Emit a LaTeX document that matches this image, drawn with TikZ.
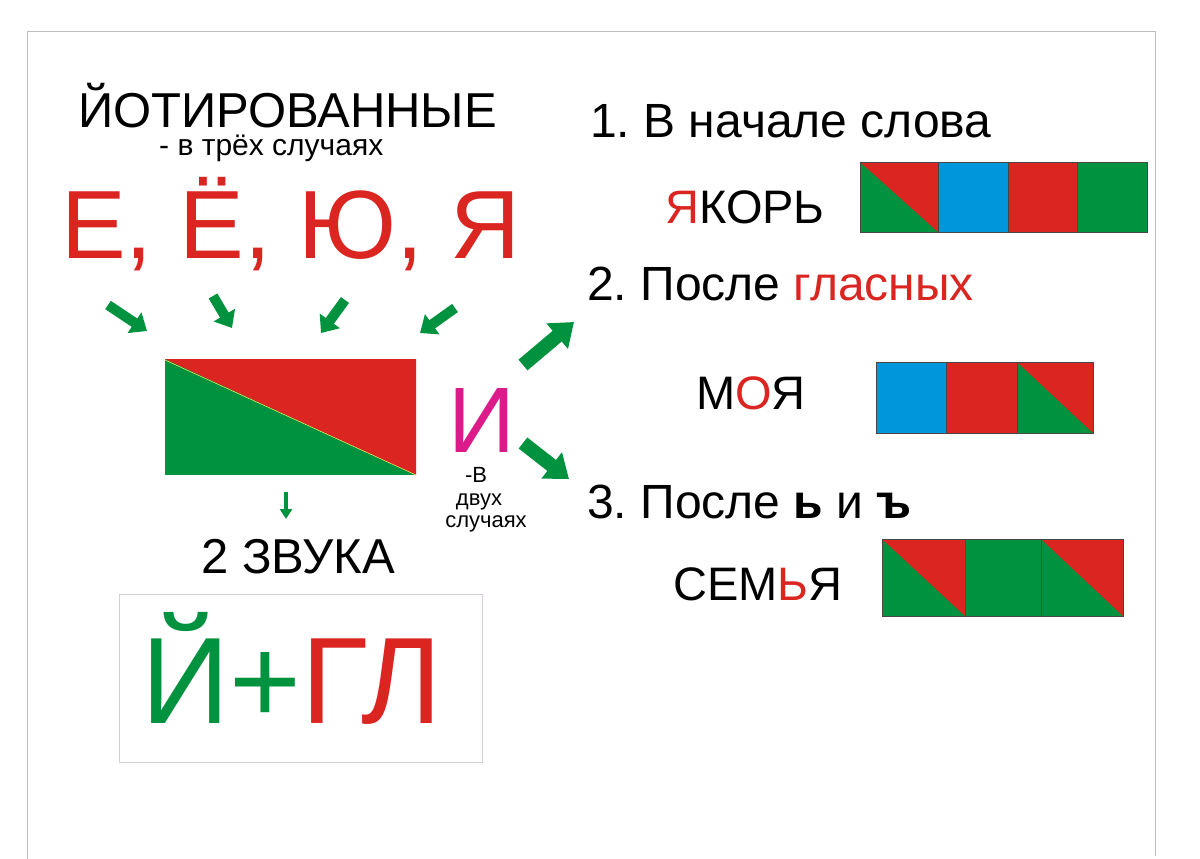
\documentclass[tikz,border=0pt]{standalone}
\usepackage{fontspec}
\setmainfont{Liberation Sans}
\usetikzlibrary{arrows.meta}
\definecolor{cred}{RGB}{218,37,32}
\definecolor{cgreen}{RGB}{0,146,63}
\definecolor{cblue}{RGB}{0,150,220}
\definecolor{cmag}{RGB}{220,26,138}
\definecolor{cframe}{RGB}{190,190,190}
\definecolor{cbox}{RGB}{216,204,216}
\definecolor{cedge}{RGB}{70,70,70}
\newcommand{\fs}[1]{\fontsize{#1}{#1}\selectfont}
\frenchspacing
\begin{document}
\begin{tikzpicture}[x=1pt,y=-1pt,
  txt/.style={inner sep=0pt,anchor=base west},
  garrow/.style={draw=cgreen,line join=miter},
  sq/.style={draw=cedge,line width=0.5pt}]
\useasboundingbox (0,0) rectangle (1200,859);
\fill[white] (0,0) rectangle (1200,859);
% frame
\draw[cframe,line width=1pt] (27,859) -- (27,32) -- (1155,32) -- (1155,856);

% left column texts
\node[txt] (title) at (78,127) {\fs{49}ЙОТИРОВАННЫЕ};
\node[txt] (sub) at (159,155) {\fs{30}\smash{- в трёх случаях}};
\node[txt,text=cred] (vowels) at (61,258) {\fs{97}Е, Ё, Ю, Я};

% big rectangle
\fill[cgreen] (165,359) rectangle (416,475);
\fill[cred] (165,359) -- (416,359) -- (416,475) -- cycle;
\draw[yellow!60!white,line width=0.5pt] (165,360) -- (416,475);
\coordinate (rect) at (290,417);

% arrows into rectangle
\coordinate (a1s) at (108,305); \coordinate (a1e) at (147,331);
\coordinate (a2s) at (213,296); \coordinate (a2e) at (232,328);
\coordinate (a3s) at (345,300); \coordinate (a3e) at (321,333);
\coordinate (a4s) at (455,308); \coordinate (a4e) at (420,333);
\foreach \s/\e in {a1s/a1e,a2s/a2e,a3s/a3e,a4s/a4e}
  \draw[garrow,line width=10pt,-{Triangle[length=15pt,width=24pt]}] (\s) -- (\e);

% down arrow
\coordinate (dns) at (286,492); \coordinate (dne) at (286,519);
\draw[garrow,line width=4pt,-{Triangle[length=10pt,width=12pt]}] (dns) -- (dne);

\node[txt] (zvuka) at (201,573) {\fs{49}2 ЗВУКА};

% box
\draw[cbox,line width=1pt] (119,594) rectangle (482,762);
\node[txt] (formula) at (141,723) {\fs{123}\textcolor{cgreen}{Й+}\textcolor{cred}{ГЛ}};

% И
\node[txt,text=cmag] (i) at (448,452) {\fs{93}\smash{И}};
\node[inner sep=0pt,anchor=base] (ivA) at (476,482) {\fs{22}\smash{-В}};
\node[inner sep=0pt,anchor=base] (ivB) at (479,505) {\fs{22}двух};
\node[inner sep=0pt,anchor=base] (ivC) at (486,527) {\fs{22}случаях};

% arrows from И
\coordinate (rus) at (523,365); \coordinate (rue) at (574,322);
\coordinate (rds) at (523,443); \coordinate (rde) at (569,479);
\draw[garrow,line width=14pt,-{Triangle[length=22pt,width=32pt]}] (rus) -- (rue);
\draw[garrow,line width=14pt,-{Triangle[length=22pt,width=32pt]}] (rds) -- (rde);

% right column
\node[txt] (c1) at (590,137) {\fs{48}1. В начале слова};
\node[txt] (w1) at (665,223) {\fs{47}\textcolor{cred}{Я}КОРЬ};
\fill[cgreen] (860,162) rectangle (938,232);
\fill[cred] (860,162) -- (938,162) -- (938,232) -- cycle;
\draw[sq] (860,162) rectangle (938,232);
\fill[cblue] (938,162) rectangle (1008,232);
\draw[sq] (938,162) rectangle (1008,232);
\fill[cred] (1008,162) rectangle (1077,232);
\draw[sq] (1008,162) rectangle (1077,232);
\fill[cgreen] (1077,162) rectangle (1147,232);
\draw[sq] (1077,162) rectangle (1147,232);

\node[txt] (c2) at (587,300) {\fs{48}2. После \textcolor{cred}{гласных}};
\node[txt] (w2) at (696,409) {\fs{47}М\textcolor{cred}{О}Я};
\fill[cblue] (876,362) rectangle (946,433);
\draw[sq] (876,362) rectangle (946,433);
\fill[cred] (946,362) rectangle (1017,433);
\draw[sq] (946,362) rectangle (1017,433);
\fill[cgreen] (1017,362) rectangle (1093,433);
\fill[cred] (1017,362) -- (1093,362) -- (1093,433) -- cycle;
\draw[sq] (1017,362) rectangle (1093,433);

\node[txt] (c3) at (587,518) {\fs{48}3. После \textbf{ь} и \textbf{ъ}};
\node[txt] (w3) at (673,600) {\fs{47}СЕМ\textcolor{cred}{Ь}Я};
\fill[cgreen] (882,539) rectangle (965,616);
\fill[cred] (882,539) -- (965,539) -- (965,616) -- cycle;
\draw[sq] (882,539) rectangle (965,616);
\fill[cgreen] (965,539) rectangle (1041,616);
\draw[sq] (965,539) rectangle (1041,616);
\fill[cgreen] (1041,539) rectangle (1123,616);
\fill[cred] (1041,539) -- (1123,539) -- (1123,616) -- cycle;
\draw[sq] (1041,539) rectangle (1123,616);
\end{tikzpicture}
\end{document}
